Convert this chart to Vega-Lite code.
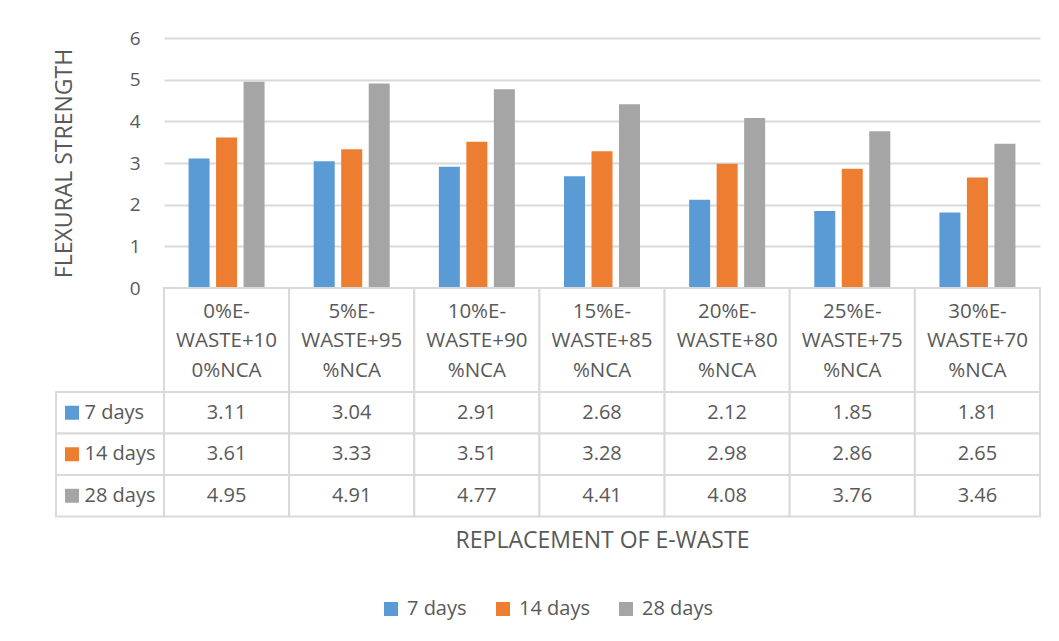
{
  "$schema": "https://vega.github.io/schema/vega-lite/v6.json",
  "background": "white",
  "padding": {"left": 53, "top": 29, "right": 5, "bottom": 5},
  "datasets": {
    "values": [
      {"cat": "0%E-WASTE+100%NCA", "series": "7 days", "value": 3.11},
      {"cat": "5%E-WASTE+95%NCA", "series": "7 days", "value": 3.04},
      {"cat": "10%E-WASTE+90%NCA", "series": "7 days", "value": 2.91},
      {"cat": "15%E-WASTE+85%NCA", "series": "7 days", "value": 2.68},
      {"cat": "20%E-WASTE+80%NCA", "series": "7 days", "value": 2.12},
      {"cat": "25%E-WASTE+75%NCA", "series": "7 days", "value": 1.85},
      {"cat": "30%E-WASTE+70%NCA", "series": "7 days", "value": 1.81},
      {"cat": "0%E-WASTE+100%NCA", "series": "14 days", "value": 3.61},
      {"cat": "5%E-WASTE+95%NCA", "series": "14 days", "value": 3.33},
      {"cat": "10%E-WASTE+90%NCA", "series": "14 days", "value": 3.51},
      {"cat": "15%E-WASTE+85%NCA", "series": "14 days", "value": 3.28},
      {"cat": "20%E-WASTE+80%NCA", "series": "14 days", "value": 2.98},
      {"cat": "25%E-WASTE+75%NCA", "series": "14 days", "value": 2.86},
      {"cat": "30%E-WASTE+70%NCA", "series": "14 days", "value": 2.65},
      {"cat": "0%E-WASTE+100%NCA", "series": "28 days", "value": 4.95},
      {"cat": "5%E-WASTE+95%NCA", "series": "28 days", "value": 4.91},
      {"cat": "10%E-WASTE+90%NCA", "series": "28 days", "value": 4.77},
      {"cat": "15%E-WASTE+85%NCA", "series": "28 days", "value": 4.41},
      {"cat": "20%E-WASTE+80%NCA", "series": "28 days", "value": 4.08},
      {"cat": "25%E-WASTE+75%NCA", "series": "28 days", "value": 3.76},
      {"cat": "30%E-WASTE+70%NCA", "series": "28 days", "value": 3.46}
    ],
    "categories": [
      {"cat": "0%E-WASTE+100%NCA", "header": "0%E-\nWASTE+10\n0%NCA"},
      {"cat": "5%E-WASTE+95%NCA", "header": "5%E-\nWASTE+95\n%NCA"},
      {"cat": "10%E-WASTE+90%NCA", "header": "10%E-\nWASTE+90\n%NCA"},
      {"cat": "15%E-WASTE+85%NCA", "header": "15%E-\nWASTE+85\n%NCA"},
      {"cat": "20%E-WASTE+80%NCA", "header": "20%E-\nWASTE+80\n%NCA"},
      {"cat": "25%E-WASTE+75%NCA", "header": "25%E-\nWASTE+75\n%NCA"},
      {"cat": "30%E-WASTE+70%NCA", "header": "30%E-\nWASTE+70\n%NCA"}
    ],
    "series": [
      {"series": "7 days"},
      {"series": "14 days"},
      {"series": "28 days"}
    ]
  },
  "columns": 2,
  "spacing": 0,
  "bounds": "flush",
  "concat": [
    {
      "width": 108, "height": 250,
      "data": {"values": [{}]},
      "mark": {"type": "text", "text": ""},
      "encoding": {}
    },
    {
      "width": 876, "height": 250,
      "data": {"name": "values"},
      "mark": {"type": "bar"},
      "encoding": {
        "x": {"field": "cat", "type": "nominal",
              "scale": {"domain": ["0%E-WASTE+100%NCA","5%E-WASTE+95%NCA","10%E-WASTE+90%NCA","15%E-WASTE+85%NCA","20%E-WASTE+80%NCA","25%E-WASTE+75%NCA","30%E-WASTE+70%NCA"], "paddingInner": 0, "paddingOuter": 0},
              "axis": null},
        "xOffset": {"field": "series", "type": "nominal",
              "scale": {"domain": ["7 days","14 days","28 days"], "paddingInner": 0.236, "paddingOuter": 0.893}},
        "y": {"field": "value", "type": "quantitative",
              "scale": {"domain": [0, 6], "nice": false},
              "axis": {"values": [0,1,2,3,4,5,6], "title": "FLEXURAL STRENGTH", "grid": true, "domain": false, "ticks": false, "labelPadding": 24, "titlePadding": 53}},
        "color": {"field": "series", "type": "nominal",
              "scale": {"domain": ["7 days","14 days","28 days"], "range": ["#5B9BD5","#ED7D31","#A5A5A5"]},
              "legend": {"title": null}}
      }
    },
    {
      "width": 108, "height": 104,
      "data": {"values": [{}]},
      "mark": {"type": "text", "text": ""},
      "encoding": {}
    },
    {
      "width": 876, "height": 104,
      "data": {"name": "categories"},
      "encoding": {
        "x": {"field": "cat", "type": "nominal",
              "scale": {"domain": ["0%E-WASTE+100%NCA","5%E-WASTE+95%NCA","10%E-WASTE+90%NCA","15%E-WASTE+85%NCA","20%E-WASTE+80%NCA","25%E-WASTE+75%NCA","30%E-WASTE+70%NCA"], "paddingInner": 0, "paddingOuter": 0},
              "axis": null}
      },
      "layer": [
        {"mark": {"type": "rect", "fill": "white", "stroke": "#d9d9d9", "strokeWidth": 2}},
        {"mark": {"type": "text", "lineBreak": "\n", "lineHeight": 29.7, "baseline": "middle", "align": "center", "dy": -28.5, "fontSize": 20.5},
         "encoding": {"text": {"field": "header"}}}
      ]
    },
    {
      "width": 108, "height": 124.5,
      "data": {"name": "series"},
      "encoding": {
        "y": {"field": "series", "type": "nominal",
              "scale": {"domain": ["7 days","14 days","28 days"], "paddingInner": 0, "paddingOuter": 0},
              "axis": null}
      },
      "layer": [
        {"mark": {"type": "rect", "fill": "white", "stroke": "#d9d9d9", "strokeWidth": 2},
         "encoding": {
           "x": {"datum": 0, "type": "quantitative", "scale": {"domain": [0, 1], "nice": false, "zero": false}, "axis": null},
           "x2": {"datum": 1}
         }},
        {"mark": {"type": "square", "filled": true, "opacity": 1, "size": 196},
         "encoding": {
           "x": {"datum": 0.148, "type": "quantitative"},
           "color": {"field": "series", "type": "nominal",
              "scale": {"domain": ["7 days","14 days","28 days"], "range": ["#5B9BD5","#ED7D31","#A5A5A5"]},
              "legend": {"title": null}}
         }},
        {"mark": {"type": "text", "align": "left", "baseline": "middle"},
         "encoding": {
           "x": {"datum": 0.264, "type": "quantitative"},
           "text": {"field": "series"}
         }}
      ]
    },
    {
      "width": 876, "height": 124.5,
      "data": {"name": "values"},
      "encoding": {
        "x": {"field": "cat", "type": "nominal",
              "scale": {"domain": ["0%E-WASTE+100%NCA","5%E-WASTE+95%NCA","10%E-WASTE+90%NCA","15%E-WASTE+85%NCA","20%E-WASTE+80%NCA","25%E-WASTE+75%NCA","30%E-WASTE+70%NCA"], "paddingInner": 0, "paddingOuter": 0},
              "axis": {"title": "REPLACEMENT OF E-WASTE", "labels": false, "ticks": false, "domain": false, "grid": false, "titlePadding": 13}},
        "y": {"field": "series", "type": "nominal",
              "scale": {"domain": ["7 days","14 days","28 days"], "paddingInner": 0, "paddingOuter": 0},
              "axis": null}
      },
      "layer": [
        {"mark": {"type": "rect", "fill": "white", "stroke": "#d9d9d9", "strokeWidth": 2}},
        {"mark": {"type": "text", "baseline": "middle", "align": "center"},
         "encoding": {"text": {"field": "value", "type": "quantitative", "format": ".2f"}}}
      ]
    }
  ],
  "config": {
    "view": {"stroke": null},
    "font": "Open Sans",
    "axis": {
      "labelFont": "Open Sans", "labelFontSize": 19, "labelColor": "#595959",
      "titleFont": "Open Sans", "titleFontSize": 23, "titleFontWeight": "normal", "titleColor": "#595959",
      "gridColor": "#d9d9d9", "gridWidth": 2
    },
    "legend": {
      "orient": "bottom", "direction": "horizontal",
      "labelFont": "Open Sans", "labelFontSize": 20, "labelColor": "#595959",
      "symbolType": "square", "symbolSize": 196, "symbolStrokeWidth": 0, "symbolOpacity": 1,
      "columnPadding": 26, "labelOffset": 6, "offset": 46,
      "layout": {"bottom": {"anchor": "middle"}}
    },
    "text": {"font": "Open Sans", "fontSize": 20, "fill": "#595959"}
  }
}
